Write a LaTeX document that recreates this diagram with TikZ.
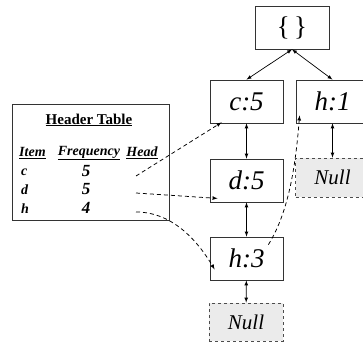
\documentclass[tikz,border=0pt]{standalone}
\usepackage{fontspec}
\setmainfont{Liberation Serif}
\usetikzlibrary{arrows,positioning,calc}
\tikzset{>=latex}
\tikzset{
  treenode/.style={draw=black!80, line width=0.8pt, fill=white,
    minimum width=73pt, minimum height=43pt, inner sep=0pt,
    font=\fontsize{27}{30}\selectfont\itshape},
  nullnode/.style={draw=black!70, dashed, line width=0.8pt, fill=black!8,
    minimum width=74pt, minimum height=38pt, inner sep=0pt,
    font=\fontsize{21}{24}\selectfont\itshape},
  treelink/.style={<->, line width=0.7pt},
  headlink/.style={->, line width=0.75pt, dash pattern=on 4pt off 3pt},
  colhead/.style={inner sep=0pt, font=\fontsize{14}{16}\selectfont\bfseries\itshape},
  rowitem/.style={inner sep=0pt, font=\fontsize{14}{16}\selectfont\bfseries\itshape},
  rowval/.style={inner sep=0pt, font=\fontsize{17}{19}\selectfont\bfseries\itshape}
}

\begin{document}
\begin{tikzpicture}[x=1pt, y=1pt]
  \path[use as bounding box, clip] (0,0) rectangle (363,350);
  % fp-tree
  \node[treenode, minimum width=74pt, font=\fontsize{27}{30}\selectfont] (root) at (292,322.5) {\{\,\}};
  \node[treenode] (c5) at (246.5,248.5) {c:5};
  \node[treenode] (h1) at (332.5,248.5) {h:1};
  \node[treenode] (d5) at (246.5,169.5) {d:5};
  \node[nullnode, minimum height=39pt] (nullR) at (332.5,172.5) {Null};
  \node[treenode] (h3) at (246.5,91.5) {h:3};
  \node[nullnode] (nullB) at (246,28) {Null};
  \draw[treelink] (root.south) -- (c5.north);
  \draw[treelink] (root.south) -- (h1.north);
  \draw[treelink] (c5) -- (d5);
  \draw[treelink] (d5) -- (h3);
  \draw[treelink] (h3) -- (nullB);
  \draw[treelink] (h1) -- (nullR);
  % header table
  \node[draw=black!80, line width=1pt, minimum width=157pt, minimum height=116pt,
    inner sep=0pt] (htable) at (90.5,187) {};
  \node[inner sep=0pt, font=\fontsize{15}{17}\selectfont\bfseries] (htitle) at (89,230) {\underline{Header Table}};
  \node[colhead, anchor=west] (hitem) at (19,197) {\underline{Item}};
  \node[colhead] (hfreq) at (89,197) {\underline{Frequency}};
  \node[colhead] (hhead) at (142,197) {\underline{Head}};
  \node[rowitem, anchor=west] (ic) at (21,178) {c};
  \node[rowitem, anchor=west] (id) at (21,160) {d};
  \node[rowitem, anchor=west] (ih) at (21,141) {h};
  \node[rowval] (vc) at (86,179) {5};
  \node[rowval] (vd) at (86,161) {5};
  \node[rowval] (vh) at (86,142) {4};
  \coordinate (pc) at (136,174);
  \coordinate (pd) at (136,157);
  \coordinate (ph) at (136,138);
  % node links
  \draw[headlink] (pc) -- ($(c5.south west)+(12,1)$);
  \draw[headlink] (pd) -- ($(d5.south west)+(8,4)$);
  \draw[headlink] (ph) .. controls (175,138) and (200,105) .. ($(h3.south west)+(5,11)$);
  \draw[headlink] ($(h3.north east)+(-15,-8)$) .. controls (290,140) and (296,190) .. ($(h1.south west)+(4,8)$);
\end{tikzpicture}
\end{document}
